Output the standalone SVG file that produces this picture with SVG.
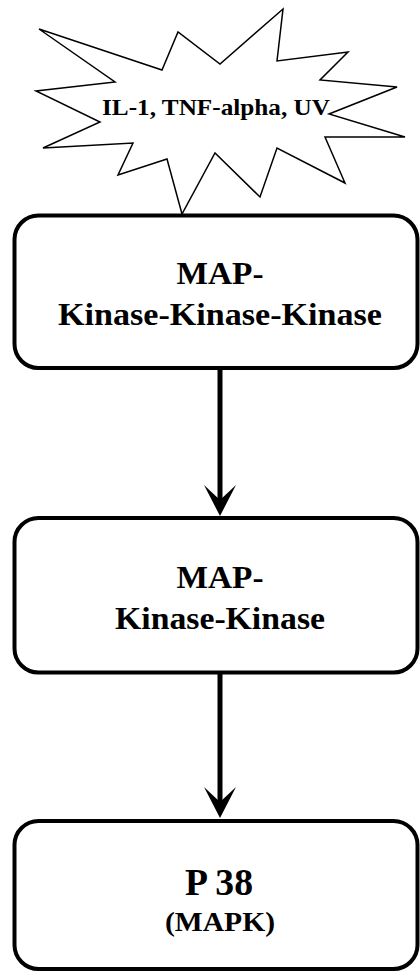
<svg xmlns="http://www.w3.org/2000/svg" width="420" height="972" viewBox="0 0 420 972">
  <style>
    .box { fill: #ffffff; stroke: #000000; stroke-width: 4; }
    .star { fill: #ffffff; stroke: #000000; stroke-width: 1.5; stroke-linejoin: miter; }
    .lbl { font-family: "Liberation Serif", "Times New Roman", serif; font-weight: bold; fill: #000000; text-anchor: middle; }
    .conn { stroke: #000000; stroke-width: 5; fill: none; }
  </style>
  <defs>
    <marker id="arrow" viewBox="0 0 32 32" refX="15" refY="16" markerWidth="32" markerHeight="32" markerUnits="userSpaceOnUse" orient="auto">
      <path d="M0,0 L31,16 L0,32 L15,16 Z" fill="#000000"/>
    </marker>
  </defs>
  <rect width="420" height="972" fill="#ffffff"/>

  <g id="connectors">
    <line class="conn" x1="220" y1="368" x2="220" y2="500" marker-end="url(#arrow)"/>
    <line class="conn" x1="220" y1="673" x2="220" y2="802" marker-end="url(#arrow)"/>
  </g>

  <g id="stimulus">
    <polygon class="star" points="39,29 162,70 178,32 220,64 283,9 277,61 348,52 320,80 397,87 329,114 405,137 325,137 345,183 277,148 260,197 215,153 182,214 167,159 118,175 133,143 43,148 100,122 36,91 115,82"/>
    <text class="lbl" x="216" y="115" font-size="23.5" textLength="228" lengthAdjust="spacingAndGlyphs">IL-1, TNF-alpha, UV</text>
  </g>

  <g id="mapkkk">
    <rect class="box" x="14.5" y="215.5" width="403" height="152.5" rx="24" ry="24"/>
    <text class="lbl" x="220" y="284" font-size="31" textLength="87" lengthAdjust="spacingAndGlyphs">MAP-</text>
    <text class="lbl" x="220" y="325" font-size="31" textLength="324" lengthAdjust="spacingAndGlyphs">Kinase-Kinase-Kinase</text>
  </g>

  <g id="mapkk">
    <rect class="box" x="14.5" y="518" width="403" height="154.5" rx="24" ry="24"/>
    <text class="lbl" x="220" y="588" font-size="31" textLength="87" lengthAdjust="spacingAndGlyphs">MAP-</text>
    <text class="lbl" x="220" y="629" font-size="31" textLength="210" lengthAdjust="spacingAndGlyphs">Kinase-Kinase</text>
  </g>

  <g id="p38">
    <rect class="box" x="14.5" y="821" width="403" height="148" rx="24" ry="24"/>
    <text class="lbl" x="219" y="895" font-size="37" textLength="68" lengthAdjust="spacingAndGlyphs">P 38</text>
    <text class="lbl" x="220" y="931" font-size="27" textLength="110" lengthAdjust="spacingAndGlyphs">(MAPK)</text>
  </g>
</svg>
